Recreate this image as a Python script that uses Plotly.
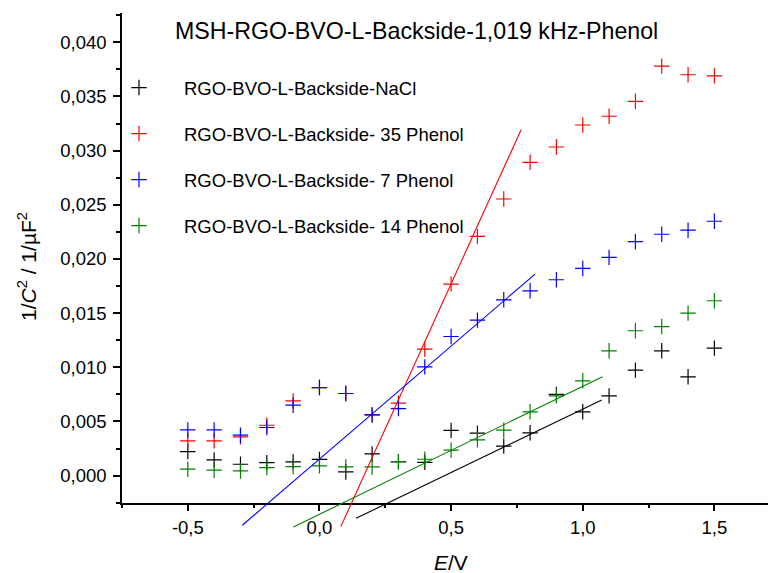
import plotly.graph_objects as go

# ---------------- data ----------------
potential_V = [-0.5, -0.4, -0.3, -0.2, -0.1, 0.0, 0.1, 0.2, 0.3, 0.4, 0.5,
               0.6, 0.7, 0.8, 0.9, 1.0, 1.1, 1.2, 1.3, 1.4, 1.5]

nacl = [0.00222, 0.00145, 0.00105, 0.00120, 0.00127, 0.00150, 0.00034, 0.00200,
        0.00128, 0.00122, 0.00418, 0.00392, 0.00272, 0.00395, 0.00750, 0.00589,
        0.00736, 0.00974, 0.01152, 0.00912, 0.01177]
phenol35 = [0.00321, 0.00321, 0.00358, 0.00465, 0.00690, 0.00813, 0.00758, 0.00561,
            0.00669, 0.01168, 0.01768, 0.02208, 0.02553, 0.02892, 0.03033, 0.03236,
            0.03317, 0.03455, 0.03780, 0.03700, 0.03690]
phenol7 = [0.00422, 0.00422, 0.00373, 0.00444, 0.00650, 0.00813, 0.00758, 0.00561,
           0.00619, 0.01004, 0.01284, 0.01435, 0.01623, 0.01706, 0.01808, 0.01912,
           0.02014, 0.02159, 0.02228, 0.02265, 0.02348]
phenol14 = [0.00059, 0.00050, 0.00043, 0.00074, 0.00083, 0.00090, 0.00080, 0.00080,
            0.00127, 0.00151, 0.00235, 0.00330, 0.00420, 0.00589, 0.00736, 0.00875,
            0.01152, 0.01337, 0.01376, 0.01500, 0.01614]

# linear fits (end points)
fit_nacl_x = [0.139, 1.072]
fit_nacl_y = [-0.00394, 0.00699]
fit_35_x = [0.081, 0.766]
fit_35_y = [-0.00471, 0.03193]
fit_7_x = [-0.293, 0.819]
fit_7_y = [-0.00458, 0.01860]
fit_14_x = [-0.099, 1.075]
fit_14_y = [-0.00474, 0.00912]

series_names = ["RGO-BVO-L-Backside-NaCl", "RGO-BVO-L-Backside- 35 Phenol",
                "RGO-BVO-L-Backside- 7 Phenol", "RGO-BVO-L-Backside- 14 Phenol"]
series_colors = ["#000000", "#ff0000", "#0000ff", "#008000"]

x_tickvals = [-0.5, 0.0, 0.5, 1.0, 1.5]
x_ticktext = ["-0,5", "0,0", "0,5", "1,0", "1,5"]
y_tickvals = [0.0, 0.005, 0.010, 0.015, 0.020, 0.025, 0.030, 0.035, 0.040]
y_ticktext = ["0,000", "0,005", "0,010", "0,015", "0,020", "0,025", "0,030", "0,035", "0,040"]

title_text = "MSH-RGO-BVO-L-Backside-1,019 kHz-Phenol"

# ---------------- geometry (page pixels; body has an 8 px margin) ----------------
FONT = "Liberation Sans, Arial, sans-serif"
OFF = 8
W, H = 776 - OFF, 573 - OFF
PLOT_LEFT, PLOT_TOP, PLOT_BOTTOM = 122, 13, 530   # page px
ML, MR = PLOT_LEFT - OFF, 0
MT, MB = PLOT_TOP - OFF, 573 - PLOT_BOTTOM
plot_w = W - ML - MR
plot_h = H - MT - MB
x_axis_px = 502.7
dom0 = (PLOT_BOTTOM - x_axis_px) / plot_h
x_range = [-0.75, 1.734]
y_range = [-0.0025, 0.0427]
px_per_unit = plot_h * (1 - dom0) / (y_range[1] - y_range[0])
y2_range = [y_range[0] - (PLOT_BOTTOM - x_axis_px) / px_per_unit, y_range[1]]


def py_frac(ypx):
    return (PLOT_BOTTOM - ypx) / plot_h


def px_frac(xpx):
    return (xpx - PLOT_LEFT) / plot_w


fig = go.Figure()

series = [nacl, phenol35, phenol7, phenol14]
legends = ["legend", "legend2", "legend3", "legend4"]
for name, col, ys, lg in zip(series_names, series_colors, series, legends):
    fig.add_trace(go.Scatter(
        x=potential_V, y=ys, mode="markers", name=name, legend=lg,
        marker=dict(symbol="cross-thin-open", size=11, color=col,
                    line=dict(color=col, width=1.2)),
        xaxis="x", yaxis="y"))

fits = [(fit_nacl_x, fit_nacl_y, series_colors[0]),
        (fit_35_x, fit_35_y, series_colors[1]),
        (fit_7_x, fit_7_y, series_colors[2]),
        (fit_14_x, fit_14_y, series_colors[3])]
for fx, fy, col in fits:
    fig.add_trace(go.Scatter(x=fx, y=fy, mode="lines", showlegend=False,
                             line=dict(color=col, width=1.1),
                             xaxis="x2", yaxis="y2"))

axis_common = dict(showgrid=False, zeroline=False, showline=True,
                   linecolor="black", linewidth=1.5, ticks="outside",
                   ticklen=7, tickwidth=1.5, tickcolor="black",
                   tickfont=dict(family=FONT, size=18.5, color="black"),
                   tickmode="array")

fig.update_layout(
    width=W, height=H,
    margin=dict(l=ML, r=MR, t=MT, b=MB, autoexpand=False),
    paper_bgcolor="white", plot_bgcolor="rgba(0,0,0,0)",
    font=dict(family=FONT, color="black"),
    xaxis=dict(range=x_range, domain=[0, 1], anchor="y",
               tickvals=x_tickvals, ticktext=x_ticktext,
               minor=dict(ticks="outside", dtick=0.25, tick0=0, ticklen=4,
                          tickwidth=1.5, tickcolor="black"),
               **axis_common),
    yaxis=dict(range=y_range, domain=[dom0, 1], anchor="x",
               tickvals=y_tickvals, ticktext=y_ticktext, ticklabelstandoff=3,
               minor=dict(ticks="outside", dtick=0.0025, tick0=0, ticklen=4,
                          tickwidth=1.5, tickcolor="black"),
               **axis_common),
    xaxis2=dict(range=x_range, domain=[0, 1], anchor="y2", visible=False),
    yaxis2=dict(range=y2_range, domain=[0, 1], anchor="x2", visible=False),
)

leg_y_px = [88, 134, 180, 226]
leg_x_px = 94
for lg, ypx in zip(legends, leg_y_px):
    fig.update_layout({lg: dict(
        x=px_frac(leg_x_px), xanchor="left",
        y=py_frac(ypx), yanchor="middle",
        bgcolor="rgba(0,0,0,0)", borderwidth=0, itemwidth=80,
        font=dict(family=FONT, size=18.5, color="black"))})

fig.add_annotation(text=title_text, xref="paper", yref="paper",
                   x=px_frac(416), y=py_frac(31), xanchor="center", yanchor="middle",
                   showarrow=False, font=dict(family=FONT, size=23.2, color="black"))
fig.add_annotation(text="<i>E</i>/V", xref="paper", yref="paper",
                   x=px_frac(451), y=py_frac(562), xanchor="center", yanchor="middle",
                   showarrow=False, font=dict(family=FONT, size=21, color="black"))
fig.add_annotation(text="1/<i>C</i><sup>2</sup> / 1/µF<sup>2</sup>", xref="paper", yref="paper",
                   x=px_frac(27), y=py_frac(267), xanchor="center", yanchor="middle",
                   textangle=-90, showarrow=False,
                   font=dict(family=FONT, size=21, color="black"))

fig.write_html("out.html")
